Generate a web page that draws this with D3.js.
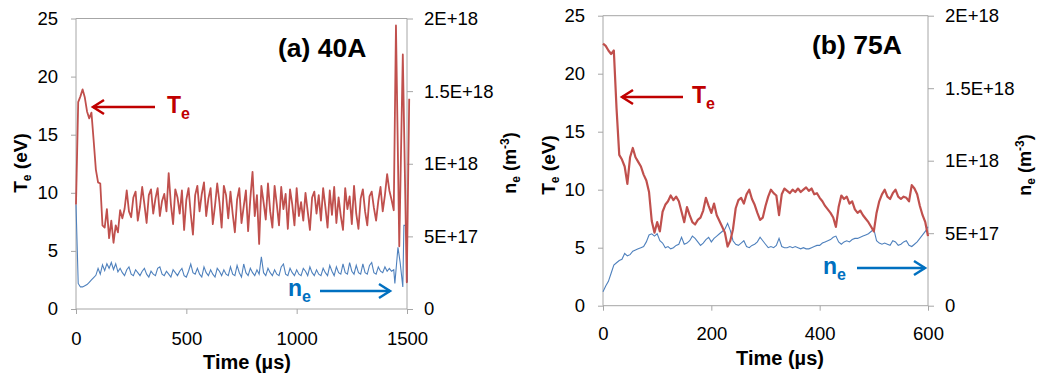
<!DOCTYPE html>
<html>
<head>
<meta charset="utf-8">
<script src="https://cdn.jsdelivr.net/npm/d3@7"></script>
<style>
  body { margin: 0; background: #fff; }
  svg { display: block; font-family: "Liberation Sans", Arial, sans-serif; }
</style>
</head>
<body>
<div id="chart"></div>
<script>
// ---- data ----
// ne values are in units of 1E+17 m^-3
var NE_UNIT = 1e17;

var teTicks = [0, 5, 10, 15, 20, 25];
var neTicks = [0, 5e17, 1e18, 1.5e18, 2e18];
var neTickLabels = ["0", "5E+17", "1E+18", "1.5E+18", "2E+18"];
var timeTicksA = [0, 500, 1000, 1500];
var timeTicksB = [0, 200, 400, 600];

// (a) 40A, sampled every 10 us from 0 to 1440, then the irregular tail
var timeA = d3.range(0, 1441, 10);
var teA = [
  9.0, 17.8, 18.3, 18.9, 18.2, 17.0, 16.4, 16.9, 14.5, 12.0,
  10.9, 10.8, 7.2, 7.0, 8.6, 6.1, 7.6, 5.7, 7.2, 6.6,
  8.5, 7.8, 8.6, 10.2, 8.4, 7.9, 9.6, 10.1, 7.6, 8.8,
  10.5, 9.0, 7.4, 9.8, 10.3, 8.2, 9.5, 10.4, 8.0, 9.3,
  9.9, 8.4, 11.7, 9.0, 7.3, 10.3, 9.6, 8.2, 10.2, 6.8,
  9.4, 10.4, 8.2, 6.4, 9.8, 10.6, 8.4, 9.9, 10.9, 8.0,
  9.5, 10.4, 7.3, 8.9, 10.8, 9.2, 7.0, 10.6, 9.8, 7.8,
  10.1, 8.2, 6.6, 9.4, 10.4, 7.4, 8.8, 10.2, 6.7, 9.5,
  11.8, 8.0, 9.8, 5.6, 10.6, 9.2, 7.7, 10.8, 8.4, 7.0,
  10.6, 9.0, 7.2, 10.5, 8.6, 9.9, 6.9, 10.3, 9.0, 7.2,
  10.4, 8.0, 9.2, 7.6, 10.0, 8.4, 6.8, 9.6, 10.1, 8.2,
  9.8, 7.6, 10.4, 8.8, 7.0, 10.2, 8.1, 10.5, 7.4, 9.6,
  8.0, 6.8, 10.4, 8.6, 9.7, 7.3, 10.6, 8.2, 6.9, 9.5,
  10.3, 8.4, 7.2, 9.7, 10.1, 8.7, 7.6, 9.3, 10.5, 8.4,
  9.8, 11.6, 10.2, 9.4, 8.5
];
var neA = [
  7.2, 1.76, 1.52, 1.52, 1.6, 1.68, 1.84, 2.0, 2.16, 2.32,
  2.8, 2.4, 3.04, 2.64, 3.12, 2.8, 3.2, 2.72, 3.12, 2.56,
  2.8, 2.5, 2.3, 2.7, 2.9, 2.4, 2.3, 2.7, 2.5, 2.3,
  2.6, 2.8, 2.4, 2.2, 2.6, 2.4, 2.3, 2.8, 2.9, 2.4,
  2.3, 2.6, 2.4, 2.2, 2.7, 2.5, 2.3, 2.6, 2.8, 2.3,
  2.2, 2.6, 3.1, 2.5, 2.4, 2.8, 2.4, 2.2, 2.9, 2.5,
  2.3, 2.7, 2.4, 2.2, 2.8, 2.6, 2.3, 2.7, 2.4, 2.3,
  2.9, 2.4, 2.3, 3.0, 2.5, 2.2, 3.1, 2.5, 2.3, 2.8,
  2.5, 2.3, 2.7, 2.4, 3.6, 2.5, 2.3, 2.8, 2.5, 2.3,
  2.7, 2.4, 2.3, 2.9, 3.1, 2.4, 2.3, 2.8, 2.5, 2.3,
  2.7, 2.4, 2.3, 2.8, 2.6, 2.3, 2.9, 2.5, 2.3, 2.7,
  2.4, 2.3, 2.8, 2.5, 2.3, 3.0, 2.6, 2.3, 2.9, 2.5,
  2.4, 3.1, 2.5, 2.4, 3.2, 2.6, 2.4, 3.0, 2.5, 2.4,
  3.1, 2.5, 2.4, 3.0, 3.2, 2.5, 2.4, 2.9, 2.6, 2.5,
  2.9, 2.6, 2.8, 2.6, 2.7
];
var teTailTimeA = [1450, 1465, 1481, 1499, 1510];
var teTailA = [24.4, 5.4, 21.9, 2.3, 18.1];
var neTailTimeA = [1445, 1459, 1469, 1481, 1486, 1500, 1502];
var neTailA = [1.76, 4.24, 3.2, 1.52, 5.76, 5.76, 1.84];

// (b) 75A, sampled every 5 us from 0 to 600
var timeB = d3.range(0, 601, 5);
var teB = [
  22.6, 22.4, 22.0, 21.7, 22.0, 17.0, 13.0, 12.6, 12.0, 10.5,
  12.8, 13.6, 12.8, 12.4, 12.0, 11.3, 10.8, 9.8, 7.3, 6.3,
  7.2, 6.4, 8.1, 8.7, 9.0, 9.5, 9.1, 9.4, 9.0, 8.1,
  7.2, 8.5, 7.8, 7.2, 7.0, 7.4, 7.6, 8.2, 9.3, 8.6,
  8.0, 8.8, 7.8, 7.3, 6.8, 6.3, 5.1, 5.6, 6.6, 8.4,
  9.1, 9.3, 8.8, 9.6, 10.0, 9.2, 8.7, 8.0, 7.4, 7.6,
  8.6, 9.4, 10.0, 9.7, 9.5, 7.8, 9.6, 10.1, 9.9, 9.7,
  10.0, 9.8, 10.1, 9.8, 10.0, 10.2, 9.9, 10.1, 9.6, 9.7,
  9.3, 9.0, 8.6, 8.3, 8.0, 7.6, 6.8, 8.5, 9.5, 9.2,
  9.4, 8.8, 9.0, 8.3, 8.0, 8.2, 7.8, 7.5, 7.2, 6.8,
  6.4, 8.0, 9.0, 9.6, 10.0, 9.4, 9.2, 9.7, 10.0, 9.4,
  9.2, 9.4, 9.3, 9.0, 10.4, 10.1, 9.6, 8.6, 7.8, 7.2,
  6.0
];
var neB = [
  0.96, 1.36, 1.68, 2.24, 2.8, 2.96, 3.12, 3.2, 3.6, 3.44,
  3.52, 3.76, 3.84, 3.92, 4.0, 4.08, 4.4, 4.88, 4.96, 4.8,
  4.96, 4.48, 4.32, 4.0, 4.08, 3.92, 4.0, 4.16, 4.24, 4.72,
  4.24, 4.32, 4.48, 4.8, 4.64, 4.4, 4.16, 4.32, 4.56, 4.72,
  4.4, 4.64, 4.8, 4.96, 5.12, 5.28, 5.68, 5.2, 4.48, 4.24,
  4.16, 4.32, 4.48, 4.08, 4.0, 4.16, 4.24, 4.4, 4.72, 4.48,
  4.24, 4.0, 4.08, 4.0, 4.16, 4.64, 4.08, 4.0, 4.0, 4.08,
  4.0, 4.08, 4.0, 3.92, 4.0, 3.92, 3.92, 4.0, 4.08, 4.16,
  4.16, 4.32, 4.4, 4.48, 4.56, 4.72, 4.8, 4.4, 4.24, 4.4,
  4.48, 4.4, 4.56, 4.64, 4.64, 4.72, 4.8, 4.88, 4.96, 5.12,
  5.28, 4.48, 4.32, 4.24, 4.32, 4.24, 4.16, 4.48, 4.4, 4.16,
  4.24, 4.4, 4.48, 4.16, 4.08, 4.24, 4.4, 4.64, 4.88, 5.12,
  5.44
];

var TE_COLOR = "#c0504d", NE_COLOR = "#4f81bd";
var TE_NOTE = "#c00000", NE_NOTE = "#0070c0";
var AXIS_COLOR = "#a6a6a6";

var svg = d3.select("#chart").append("svg")
  .attr("width", 1039).attr("height", 379);

function zip(ts, vs) {
  return ts.map(function(t, i) { return [t, vs[i]]; });
}

function arrow(g, x1, x2, y, color, pointLeft) {
  g.append("line").attr("x1", x1).attr("x2", x2).attr("y1", y).attr("y2", y)
    .attr("stroke", color).attr("stroke-width", 2.5);
  var tip = pointLeft ? x1 : x2, d = pointLeft ? 11 : -11;
  g.append("path")
    .attr("d", "M" + (tip + d) + "," + (y - 7) + "L" + tip + "," + y + "L" + (tip + d) + "," + (y + 7))
    .attr("fill", "none").attr("stroke", color).attr("stroke-width", 2.5);
}

function subLabel(g, x, y, main, sub, color) {
  var t = g.append("text").attr("x", x).attr("y", y)
    .attr("fill", color).attr("font-weight", "bold").attr("font-size", 23);
  t.append("tspan").text(main);
  t.append("tspan").attr("dy", 6).attr("font-size", 16).text(sub);
}

function drawPanel(p) {
  var g = svg.append("g");
  var x = d3.scaleLinear().domain(p.xDomain).range([p.left, p.right]);
  var yTe = d3.scaleLinear().domain([0, 25]).range([p.bottom, p.top]);
  var yNe = d3.scaleLinear().domain([0, 2e18]).range([p.bottom, p.top]);

  // plot border (top edge)
  g.append("line").attr("x1", p.left).attr("x2", p.right)
    .attr("y1", p.top).attr("y2", p.top).attr("stroke", AXIS_COLOR);

  var axL = g.append("g").attr("transform", "translate(" + p.left + ",0)")
    .call(d3.axisLeft(yTe).tickValues(teTicks).tickSize(5).tickPadding(13));
  var axR = g.append("g").attr("transform", "translate(" + p.right + ",0)")
    .call(d3.axisRight(yNe).tickValues(neTicks).tickSize(6).tickPadding(11)
      .tickFormat(function(d, i) { return neTickLabels[i]; }));
  var axB = g.append("g").attr("transform", "translate(0," + p.bottom + ")")
    .call(d3.axisBottom(x).tickValues(p.xTicks).tickSize(5).tickPadding(p.xPad)
      .tickFormat(d3.format("d")));

  [axL, axR, axB].forEach(function(a) {
    a.select(".domain").attr("stroke", AXIS_COLOR);
    a.selectAll(".tick line").attr("stroke", AXIS_COLOR);
    a.selectAll(".tick text").attr("font-size", 18.5).attr("fill", "#000")
      .attr("font-family", "Liberation Sans, Arial, sans-serif");
  });
  axL.select(".domain").attr("d", "M0," + p.bottom + "V" + p.top);
  axR.select(".domain").attr("d", "M0," + p.bottom + "V" + p.top);
  axB.select(".domain").attr("d", "M" + p.left + ",0H" + p.right);

  // series
  var lineTe = d3.line().x(function(d) { return x(d[0]); }).y(function(d) { return yTe(d[1]); });
  var lineNe = d3.line().x(function(d) { return x(d[0]); }).y(function(d) { return yNe(d[1] * NE_UNIT); });

  g.append("path").datum(p.ne).attr("d", lineNe)
    .attr("fill", "none").attr("stroke", NE_COLOR).attr("stroke-width", 1.1);
  g.append("path").datum(p.te).attr("d", lineTe)
    .attr("fill", "none").attr("stroke", TE_COLOR).attr("stroke-width", p.teWidth)
    .attr("stroke-linejoin", "round");

  // axis titles
  var tl = g.append("text")
    .attr("transform", "translate(" + p.teTitleX + "," + p.titleY + ") rotate(-90)")
    .attr("text-anchor", "middle").attr("font-weight", "bold").attr("font-size", 19);
  tl.append("tspan").text("T");
  tl.append("tspan").attr("dy", 4).attr("font-size", 12).text("e");
  tl.append("tspan").attr("dy", -4).text(" (eV)");

  var tr = g.append("text")
    .attr("transform", "translate(" + p.neTitleX + "," + p.titleY + ") rotate(-90)")
    .attr("text-anchor", "middle").attr("font-weight", "bold").attr("font-size", 18);
  tr.append("tspan").text("n");
  tr.append("tspan").attr("dy", 4).attr("font-size", 12).text("e");
  tr.append("tspan").attr("dy", -4).text(" (m");
  tr.append("tspan").attr("dy", -7).attr("font-size", 12).text("-3");
  tr.append("tspan").attr("dy", 7).text(")");

  g.append("text").attr("x", p.timeX).attr("y", p.timeY)
    .attr("text-anchor", "middle").attr("font-weight", "bold").attr("font-size", 20)
    .text("Time (\u00b5s)");

  g.append("text").attr("x", p.tagX).attr("y", p.tagY)
    .attr("font-weight", "bold").attr("font-size", 26.5).text(p.tag);

  // annotations
  arrow(g, p.teArrow[0], p.teArrow[1], p.teArrow[2], TE_NOTE, true);
  subLabel(g, p.teText[0], p.teText[1], "T", "e", TE_NOTE);
  arrow(g, p.neArrow[0], p.neArrow[1], p.neArrow[2], NE_NOTE, false);
  subLabel(g, p.neText[0], p.neText[1], "n", "e", NE_NOTE);
}

drawPanel({
  left: 76, right: 407, top: 18.5, bottom: 309,
  xDomain: [0, 1500], xTicks: timeTicksA, xPad: 18,
  te: zip(timeA, teA).concat(zip(teTailTimeA, teTailA)),
  ne: zip(timeA, neA).concat(zip(neTailTimeA, neTailA)),
  teWidth: 1.8,
  teTitleX: 27, neTitleX: 516, titleY: 163,
  timeX: 247, timeY: 369,
  tag: "(a) 40A", tagX: 278, tagY: 57,
  teArrow: [93, 155, 107], teText: [167, 113],
  neArrow: [320, 390, 291], neText: [288, 296]
});

drawPanel({
  left: 603, right: 928, top: 15.7, bottom: 305.7,
  xDomain: [0, 600], xTicks: timeTicksB, xPad: 16,
  te: zip(timeB, teB),
  ne: zip(timeB, neB),
  teWidth: 2.2,
  teTitleX: 555, neTitleX: 1031, titleY: 165,
  timeX: 780, timeY: 365,
  tag: "(b) 75A", tagX: 812, tagY: 54,
  teArrow: [622, 683, 97], teText: [692, 103],
  neArrow: [857, 925, 268], neText: [823, 274]
});
</script>
</body>
</html>
